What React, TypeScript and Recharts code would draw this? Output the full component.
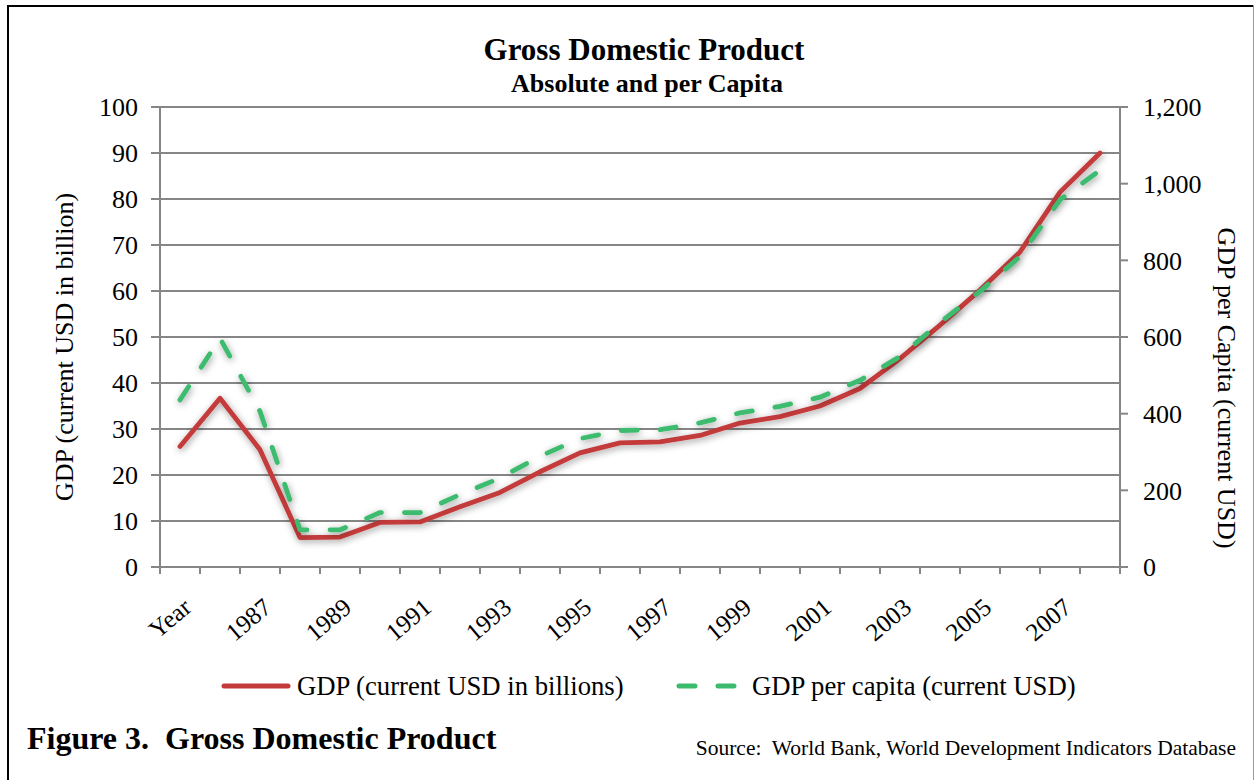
import React from "react";
import { LineChart, Line, XAxis, YAxis, CartesianGrid } from "recharts";

// GDP series, 1985 row is labelled "Year" in the source sheet
const categories = [
  "Year", "1986", "1987", "1988", "1989", "1990", "1991", "1992", "1993", "1994", "1995", "1996",
  "1997", "1998", "1999", "2000", "2001", "2002", "2003", "2004", "2005", "2006", "2007", "2008",
];
const gdpBillions = [
  26.2, 36.7, 25.5, 6.4, 6.5, 9.7, 9.8, 13.1, 16.2, 20.7, 24.8, 27.0,
  27.2, 28.6, 31.3, 32.7, 35.0, 38.8, 45.3, 52.6, 60.2, 68.5, 81.5, 90.0,
];
const gdpPerCapita = [
  436, 597, 406, 97, 97, 142, 142, 189, 232, 289, 335, 356,
  358, 376, 402, 419, 443, 487, 549, 638, 719, 810, 958, 1035,
];
const leftTicks = [0, 10, 20, 30, 40, 50, 60, 70, 80, 90, 100];
const rightTicks = [0, 200, 400, 600, 800, 1000, 1200];

const data = categories.map((year, i) => ({
  year,
  gdp: gdpBillions[i],
  perCapita: gdpPerCapita[i],
}));

const W = 1255;
const H = 780;
const FONT = "'Liberation Serif', 'Times New Roman', serif";
const AXIS = "#868686";
const RED = "#c43a3b";
const GREEN = "#3cbb6e";
const BAND = 40; // 960px plot / 24 categories

// Excel-style category axis: tick marks sit between categories, labels on every other one
const XTick = (props: any) => {
  const { x, y, payload, index } = props;
  const left = x - BAND / 2;
  const ax = x + 13;
  const ay = y + 43;
  return (
    <g>
      <line x1={left} y1={y} x2={left} y2={y + 7} stroke={AXIS} strokeWidth={2} />
      {index === categories.length - 1 && (
        <line x1={x + BAND / 2} y1={y} x2={x + BAND / 2} y2={y + 7} stroke={AXIS} strokeWidth={2} />
      )}
      {index % 2 === 0 && (
        <text x={ax} y={ay} textAnchor="end" transform={`rotate(-40 ${ax} ${ay})`}
          fill="#000" fontSize={25} fontFamily={FONT}>
          {payload.value}
        </text>
      )}
    </g>
  );
};

const tickStyle = { fill: "#000", fontSize: 26, fontFamily: FONT };

export default function App() {
  return (
    <div style={{ position: "absolute", left: 0, top: 0, width: W, height: H, background: "#fff" }}>
      <LineChart width={W} height={H} data={data} margin={{ top: 107, right: 0, bottom: 153, left: 0 }}>
        <defs>
          <filter id="lineShadow" x="-10%" y="-10%" width="120%" height="130%">
            <feDropShadow dx="1" dy="2" stdDeviation="3.5" floodColor="#000" floodOpacity="0.4" />
          </filter>
        </defs>
        <CartesianGrid yAxisId="left" vertical={false} stroke={AXIS} strokeWidth={2} />
        <XAxis dataKey="year" scale="band" interval={0} height={60} tickSize={0} tickMargin={0}
          tickLine={false} axisLine={{ stroke: AXIS, strokeWidth: 2 }} tick={<XTick />} />
        <YAxis yAxisId="left" orientation="left" width={160} domain={[0, 100]} ticks={leftTicks}
          interval={0} tickSize={9} tickMargin={13} tick={tickStyle}
          axisLine={{ stroke: AXIS, strokeWidth: 2 }} tickLine={{ stroke: AXIS, strokeWidth: 2 }} />
        <YAxis yAxisId="right" orientation="right" width={135} domain={[0, 1200]} ticks={rightTicks}
          interval={0} tickSize={8} tickMargin={15} tick={tickStyle}
          tickFormatter={(v: number) => v.toLocaleString("en-US")}
          axisLine={{ stroke: AXIS, strokeWidth: 2 }} tickLine={{ stroke: AXIS, strokeWidth: 2 }} />
        <Line yAxisId="left" type="linear" dataKey="gdp" stroke={RED} strokeWidth={4.8}
          strokeLinecap="round" strokeLinejoin="round" dot={false} activeDot={false}
          filter="url(#lineShadow)" isAnimationActive={false} />
        <Line yAxisId="right" type="linear" dataKey="perCapita" stroke={GREEN} strokeWidth={4.8}
          strokeDasharray="16 23" strokeLinecap="round" strokeLinejoin="round" dot={false}
          activeDot={false} filter="url(#lineShadow)" isAnimationActive={false} />
      </LineChart>

      <svg width={W} height={H} style={{ position: "absolute", left: 0, top: 0, pointerEvents: "none" }}>
        {/* frame */}
        <line x1={8} y1={5} x2={8} y2={H} stroke="#000" strokeWidth={2} />
        <line x1={7} y1={6} x2={1253} y2={6} stroke="#000" strokeWidth={2} />
        <line x1={1253.5} y1={5} x2={1253.5} y2={H} stroke="#999" strokeWidth={1} />

        <g fontFamily={FONT} fill="#000">
          <text x={644} y={60} textAnchor="middle" fontSize={31} fontWeight="bold">Gross Domestic Product</text>
          <text x={647} y={92} textAnchor="middle" fontSize={26} fontWeight="bold">Absolute and per Capita</text>

          <text transform="translate(73 347) rotate(-90)" textAnchor="middle" fontSize={26}>
            GDP  (current USD in billion)
          </text>
          <text transform="translate(1218 388) rotate(90)" textAnchor="middle" fontSize={26}>
            GDP per Capita (current USD)
          </text>

          {/* legend */}
          <line x1={224} y1={686} x2={288} y2={686} stroke={RED} strokeWidth={5} strokeLinecap="round" />
          <text x={297} y={695} fontSize={26.7}>GDP (current USD in billions)</text>
          <line x1={679} y1={686} x2={736} y2={686} stroke={GREEN} strokeWidth={5}
            strokeDasharray="16 23" strokeLinecap="round" />
          <text x={752} y={695} fontSize={26.7}>GDP per capita (current USD)</text>

          <text x={27} y={749} fontSize={32} fontWeight="bold" style={{ whiteSpace: "pre" }}>
            Figure 3.  Gross Domestic Product
          </text>
          <text x={1236} y={755} textAnchor="end" fontSize={21.5} style={{ whiteSpace: "pre" }}>
            Source:  World Bank, World Development Indicators Database
          </text>
        </g>
      </svg>
    </div>
  );
}
